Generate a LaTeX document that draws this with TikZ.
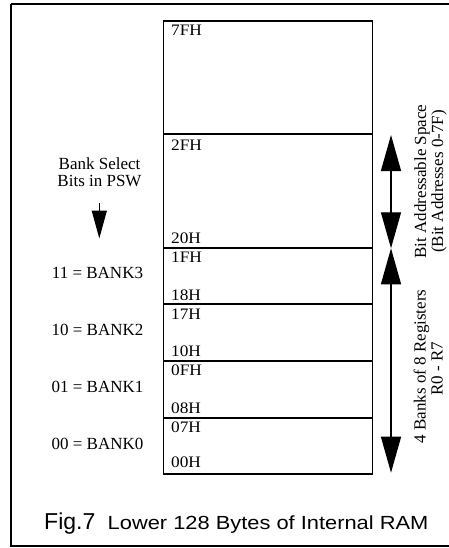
\documentclass[tikz,border=0pt]{standalone}
\usepackage{fontspec}
\usepackage{graphicx}
\setmainfont{Liberation Serif}
\newfontfamily\capfont{Liberation Sans}
\usetikzlibrary{arrows.meta}
\begin{document}
\begin{tikzpicture}[x=1pt,y=-1pt,
  frame/.style={draw, line width=2.5pt},
  cell/.style={draw, line width=1.5pt, minimum width=209pt, inner sep=0pt, outer sep=0pt, anchor=north west},
  addr/.style={font=\fontsize{16}{16}\selectfont, anchor=base west, inner sep=0pt, xscale=1.08},
  bank/.style={font=\fontsize{17}{17}\selectfont, anchor=base, inner sep=0pt},
  side/.style={font=\fontsize{17}{17}\selectfont, anchor=base, inner sep=0pt, rotate=90},
  bigtip/.tip={Triangle[length=36pt,width=20pt]},
  dimarrow/.style={line width=1.3pt, bigtip-bigtip},
  selarrow/.style={line width=1.3pt, -{Triangle[length=28pt,width=15pt]}},
]
\useasboundingbox (0,0) rectangle (448,548);
% outer frame (right side lies beyond the picture)
\draw[frame] (11,4) -- (460,4) (11,4) -- (11,546) -- (460,546);

% memory cells
\node[cell, minimum height=113pt] (c7f) at (163.3,21) {};
\node[cell, minimum height=114pt] (c2f) at (163.3,134) {};
\node[cell, minimum height=56pt]  (b3)  at (163.3,248) {};
\node[cell, minimum height=57pt]  (b2)  at (163.3,304) {};
\node[cell, minimum height=57pt]  (b1)  at (163.3,361) {};
\node[cell, minimum height=56pt]  (b0)  at (163.3,418) {};

% address labels
\node[addr] (t7f) at (171,36)    {7FH};
\node[addr] (t2f) at (171,150)   {2FH};
\node[addr] (t20) at (171,243.3) {20H};
\node[addr] (t1f) at (171,262.5) {1FH};
\node[addr] (t18) at (171,300.5) {18H};
\node[addr] (t17) at (171,319)   {17H};
\node[addr] (t10) at (171,356.5) {10H};
\node[addr] (t0f) at (171,375.5) {0FH};
\node[addr] (t08) at (171,413)   {08H};
\node[addr] (t07) at (171,432.5) {07H};
\node[addr] (t00) at (171,467)   {00H};

% bank select
\node[bank] (bs1) at (99.5,170)   {Bank Select};
\node[bank] (bs2) at (99.5,186.7) {Bits in PSW};
\coordinate (s1) at (99.3,203);
\coordinate (s2) at (99.3,238.5);
\draw[selarrow] (s1) -- (s2);

\node[bank] (k3) at (97.5,278.3) {11 = BANK3};
\node[bank] (k2) at (97.5,335.5) {10 = BANK2};
\node[bank] (k1) at (97.5,392.5) {01 = BANK1};
\node[bank] (k0) at (97.5,449)   {00 = BANK0};

% dimension arrows
\coordinate (a1) at (391,135);
\coordinate (a2) at (391,248.3);
\coordinate (a3) at (391,472.7);
\draw[dimarrow] (a1) -- (a2);
\draw[dimarrow] (a2) -- (a3);

% side texts
\node[side] (bas1) at (426,181.5) {Bit Addressable Space};
\node[side] (bas2) at (443,181.5) {(Bit Addresses 0-7F)};
\node[side] (rg1)  at (425.5,366.5) {4 Banks of 8 Registers};
\node[side] (rg2)  at (442.5,369) {R0 - R7};

% caption
\node[anchor=base west, inner sep=0pt, font=\capfont\fontsize{23}{23}\selectfont] (fig) at (44,529) {Fig.7};
\node[anchor=base west, inner sep=0pt, font=\capfont\fontsize{19}{19}\selectfont, xscale=1.15] (cap) at (107.5,529) {Lower 128 Bytes of Internal RAM};
\end{tikzpicture}
\end{document}
